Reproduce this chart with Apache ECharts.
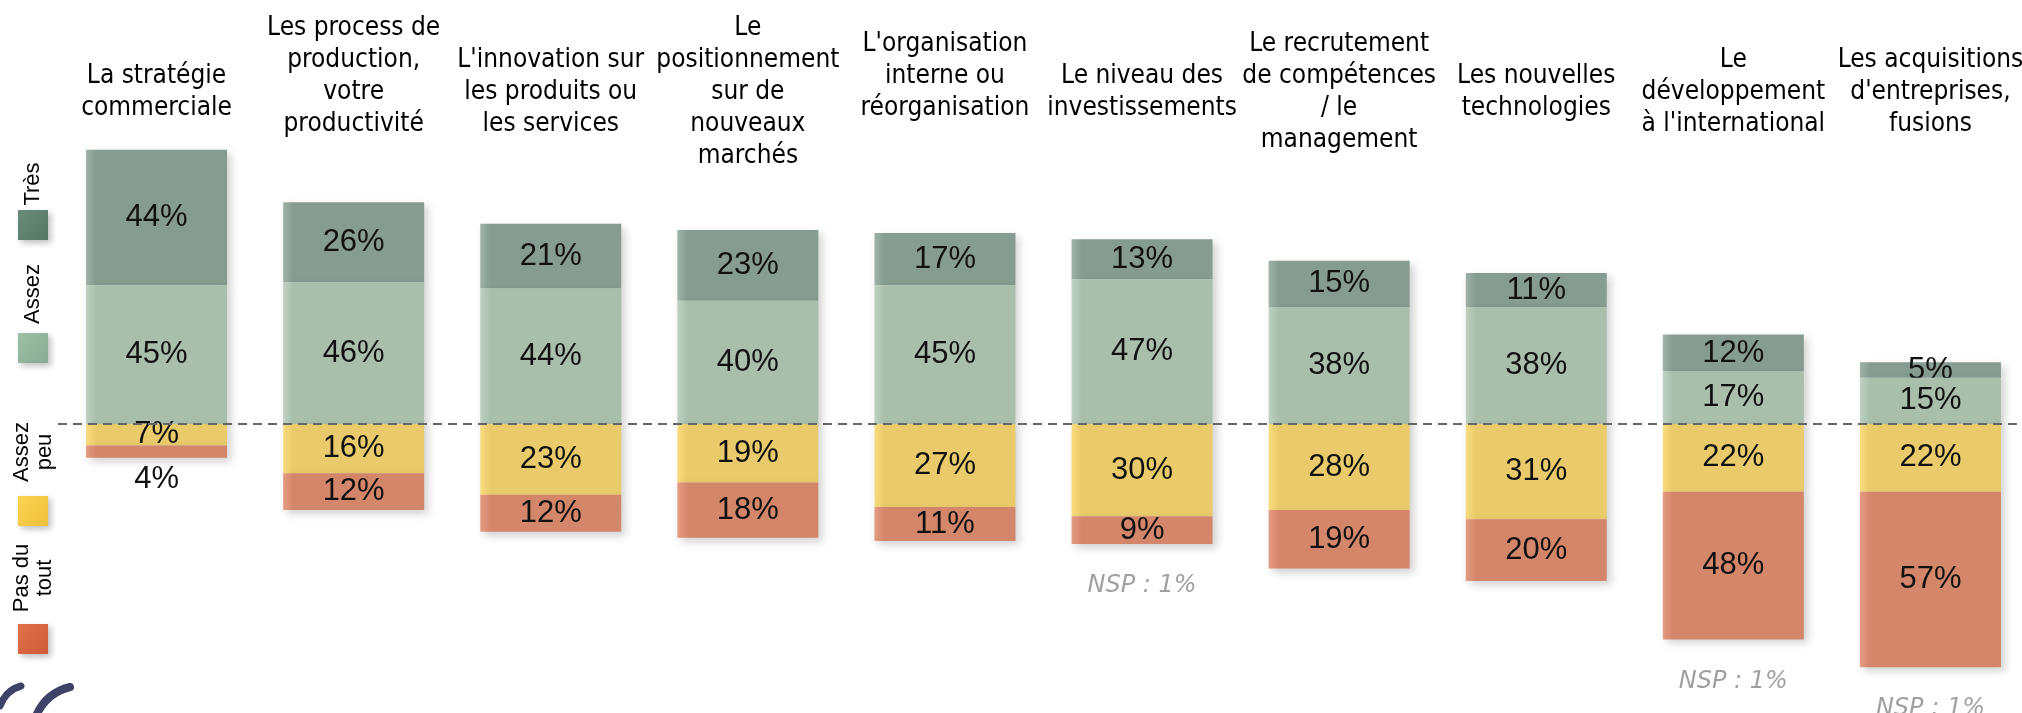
<!DOCTYPE html>
<html>
<head>
<meta charset="utf-8">
<script src="https://cdn.jsdelivr.net/npm/echarts@6/dist/echarts.min.js"></script>
<style>
  html, body { margin: 0; padding: 0; background: #fff; }
  #chart { width: 2022px; height: 713px; }
</style>
</head>
<body>
<div id="chart"></div>
<script>
var categories = [
  "La stratégie\ncommerciale",
  "Les process de\nproduction,\nvotre\nproductivité",
  "L'innovation sur\nles produits ou\nles services",
  "Le\npositionnement\nsur de\nnouveaux\nmarchés",
  "L'organisation\ninterne ou\nréorganisation",
  "Le niveau des\ninvestissements",
  "Le recrutement\nde compétences\n/ le\nmanagement",
  "Les nouvelles\ntechnologies",
  "Le\ndéveloppement\nà l'international",
  "Les acquisitions\nd'entreprises,\nfusions"
];
var tres = [44, 26, 21, 23, 17, 13, 15, 11, 12, 5];
var assez = [45, 46, 44, 40, 45, 47, 38, 38, 17, 15];
var assezPeu = [7, 16, 23, 19, 27, 30, 28, 31, 22, 22];
var pasDuTout = [4, 12, 12, 18, 11, 9, 19, 20, 48, 57];
var nsp = [null, null, null, null, null, 1, null, null, 1, 1];
var legendNames = ["Très", "Assez", "Assez\npeu", "Pas du\ntout"];

var barColors = {
  tres: ["#9fb2a7", "#869c90"],
  assez: ["#bfd1c2", "#a9bfac"],
  peu: ["#f8dc7e", "#eacb6b"],
  pas: ["#e59c82", "#d4866b"]
};
var legendColors = [
  ["#6a8b7a", "#557764"],
  ["#9dbfa6", "#88ad94"],
  ["#fbd452", "#eec03b"],
  ["#e27049", "#cd5c37"]
];

function edgeGradient(c) {
  return new echarts.graphic.LinearGradient(0, 0, 1, 0, [
    { offset: 0, color: c[0] },
    { offset: 0.07, color: c[1] },
    { offset: 1, color: c[1] }
  ]);
}

var shadow = {
  shadowBlur: 8,
  shadowOffsetX: 4,
  shadowOffsetY: 4,
  shadowColor: "rgba(0,0,0,0.18)"
};

var pctLabel = {
  show: true,
  position: "inside",
  color: "#111",
  fontFamily: "'Liberation Sans', Arial, sans-serif",
  fontSize: 31,
  textBorderWidth: 0,
  formatter: function (p) {
    return Math.abs(p.value) + "%";
  }
};

function toData(values, sign) {
  return values.map(function (v) {
    var item = { value: sign * v };
    if (v < 5) {
      item.label = { position: sign > 0 ? "top" : "bottom", distance: 6 };
    }
    return item;
  });
}

function barSeries(name, values, sign, colors, z) {
  return {
    name: name,
    type: "bar",
    stack: "total",
    barWidth: 141,
    z: z,
    data: toData(values, sign),
    itemStyle: Object.assign({ color: edgeGradient(colors) }, shadow),
    label: pctLabel,
    emphasis: { disabled: true }
  };
}

// two of the category labels sit half a line higher than the others
var shiftedUp = [1, 4];

var legendTops = [210, 333, 496, 624];
var legendCenters = [184, 294, 452, 578];
var graphics = [];
legendNames.forEach(function (n, i) {
  graphics.push({
    type: "rect",
    shape: { x: 18, y: legendTops[i], width: 30, height: 30 },
    style: {
      fill: new echarts.graphic.LinearGradient(0, 0, 1, 1, [
        { offset: 0, color: legendColors[i][0] },
        { offset: 1, color: legendColors[i][1] }
      ]),
      shadowBlur: 6,
      shadowOffsetX: 3,
      shadowOffsetY: 3,
      shadowColor: "rgba(0,0,0,0.25)"
    }
  });
  graphics.push({
    type: "text",
    x: 33,
    y: legendCenters[i],
    rotation: Math.PI / 2,
    style: {
      text: n,
      fill: "#000",
      fontSize: 22,
      fontFamily: "'Liberation Sans', Arial, sans-serif",
      lineHeight: 23,
      align: "center",
      verticalAlign: "middle"
    }
  });
});
// logo fragment bottom left
graphics.push({
  type: "bezierCurve",
  shape: { x1: 0, y1: 706, cpx1: 6, cpy1: 690, x2: 21, y2: 686 },
  style: { stroke: "#3e4266", lineWidth: 7, lineCap: "round", fill: null }
});
graphics.push({
  type: "bezierCurve",
  shape: { x1: 36, y1: 716, cpx1: 46, cpy1: 693, x2: 70, y2: 687 },
  style: { stroke: "#3e4266", lineWidth: 8, lineCap: "round", fill: null }
});

var chart = echarts.init(document.getElementById("chart"));
chart.setOption({
  animation: false,
  backgroundColor: "#fff",
  grid: { left: 58, top: 116, width: 1971, height: 585, outerBoundsMode: "none", containLabel: false },
  xAxis: {
    type: "category",
    position: "top",
    data: categories,
    axisLine: { show: false, onZero: false },
    axisTick: { show: false },
    splitLine: { show: false },
    axisLabel: {
      interval: 0,
      margin: 24,
      color: "#000",
      fontFamily: "'DejaVu Sans Condensed', Tahoma, sans-serif",
      fontSize: 26,
      lineHeight: 32,
      align: "center",
      verticalAlign: "middle",
      hideOverlap: false,
      formatter: function (value, index) {
        return shiftedUp.indexOf(index) >= 0 ? value + "\n " : value;
      }
    }
  },
  yAxis: {
    type: "value",
    min: -90,
    max: 100,
    show: false,
    splitLine: { show: false }
  },
  series: [
    Object.assign(barSeries("Assez", assez, 1, barColors.assez, 3), {
      markLine: {
        silent: true,
        symbol: ["none", "none"],
        label: { show: false },
        lineStyle: { color: "#666", width: 2, type: [9, 6] },
        data: [{ yAxis: 0 }],
        z: 10
      }
    }),
    barSeries("Très", tres, 1, barColors.tres, 2),
    barSeries("Assez peu", assezPeu, -1, barColors.peu, 4),
    barSeries("Pas du tout", pasDuTout, -1, barColors.pas, 5),
    {
      name: "NSP",
      type: "scatter",
      symbolSize: 0,
      z: 6,
      data: nsp.map(function (v, i) {
        return v == null ? null : -(assezPeu[i] + pasDuTout[i]);
      }),
      label: {
        show: true,
        position: "bottom",
        distance: 30,
        color: "#888",
        fontFamily: "'DejaVu Sans', Verdana, sans-serif",
        fontStyle: "italic",
        fontSize: 24,
        formatter: function (p) {
          return "NSP : " + nsp[p.dataIndex] + "%";
        }
      },
      emphasis: { disabled: true }
    }
  ],
  graphic: graphics
});
</script>
</body>
</html>
